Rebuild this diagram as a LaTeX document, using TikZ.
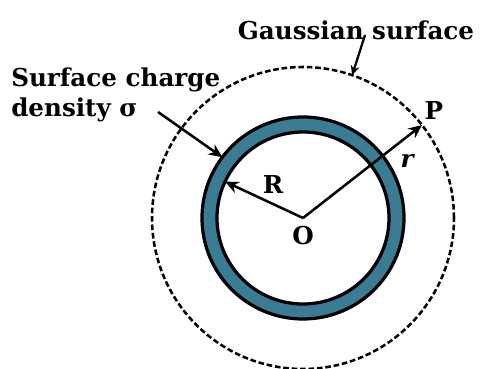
\documentclass[tikz,border=0pt]{standalone}
\usepackage{fontspec}
\setmainfont{DejaVu Serif}
\usetikzlibrary{arrows.meta,calc}
\definecolor{shellteal}{RGB}{58,124,148}
\tikzset{
  shell line/.style={line width=2.3pt,draw=black},
  gauss line/.style={line width=1.8pt,dash pattern=on 4pt off 2pt},
  pointer/.style={-{Stealth[length=3.4mm,width=3mm]},line width=1.8pt},
  label text/.style={font=\fontsize{17.5}{21}\selectfont\bfseries,inner sep=0pt}
}
\begin{document}
\begin{tikzpicture}[x=0.025cm,y=0.025cm]
  \useasboundingbox (0,0) rectangle (482,369);
  \coordinate (O) at (303,151);
  % shell and gaussian surface
  \fill[shellteal,even odd rule] (O) circle (101) (O) circle (86);
  \draw[shell line] (O) circle (101);
  \draw[shell line] (O) circle (86);
  \draw[gauss line] (O) circle (151);
  \coordinate (P) at ($(O)+(38:151)$);
  \coordinate (Rend) at ($(O)+(155:86)$);
  \coordinate (shell) at ($(O)+(143:101)$);
  \coordinate (gauss) at ($(O)+(71:151)$);
  % labels
  \node[label text,anchor=west,align=left] (sigma) at (11,274)
    {Surface charge\\density σ};
  \node[label text] (gausstext) at (356,339) {Gaussian surface};
  \node[label text] (Plab) at (434,258) {P};
  \node[label text] (Olab) at (303,133) {O};
  \node[label text] (Rlab) at (273,184) {R};
  \node[font=\fontsize{17.5}{21}\selectfont\bfseries\itshape] (rlab) at (407,208) {r};
  % arrows
  \draw[pointer] (O) -- (P);
  \draw[pointer] (O) -- (Rend);
  \draw[pointer] (158,257) coordinate (sigmastart) -- (shell);
  \draw[-{Stealth[length=2.4mm,width=2.2mm]},line width=1.6pt]
    (365,334) coordinate (gaussstart) -- (gauss);
\end{tikzpicture}
\end{document}
